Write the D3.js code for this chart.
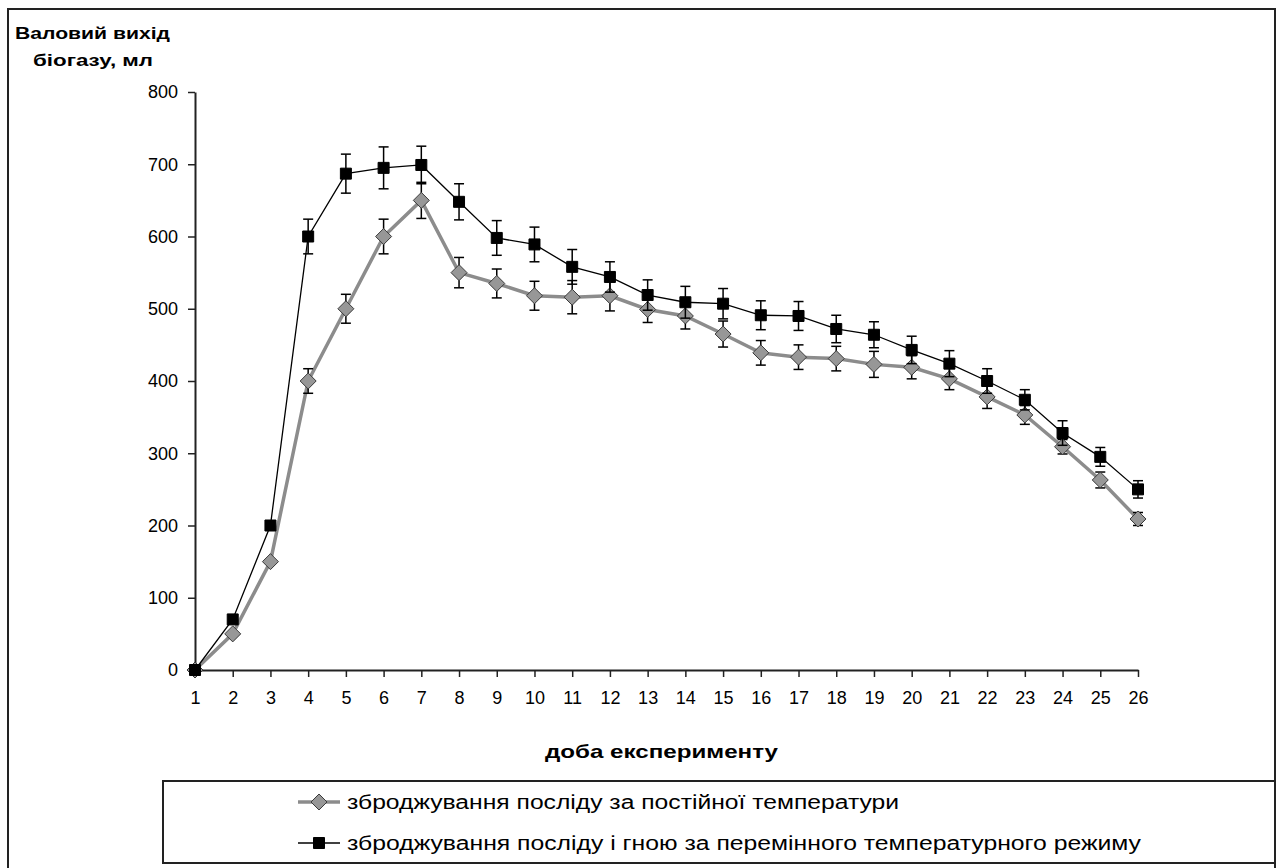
<!DOCTYPE html>
<html>
<head>
<meta charset="utf-8">
<script src="https://cdn.jsdelivr.net/npm/d3@7"></script>
<style>
  body { margin: 0; background: #fff; }
  text { font-family: "Liberation Sans", Arial, sans-serif; }
</style>
</head>
<body>
<div id="chart"></div>
<script>
// days of the experiment (x categories)
const days = [1,2,3,4,5,6,7,8,9,10,11,12,13,14,15,16,17,18,19,20,21,22,23,24,25,26];
// constant temperature, ml
const constTemp = [0,50,150,400,500,600,650,550,535,518,516,518,499,490,465,439,433,431,423,419,403,378,353,309,263,209];
const constTempErr = [0,0,0,17,20,24,25,21,20,20,23,21,18,18,18,17,17,17,18,16,15,16,13,10,11,9];
// variable temperature regime, ml
const varTemp = [0,70,200,600,687,695,699,648,598,589,558,544,519,509,507,491,490,472,464,443,424,400,374,328,295,250];
const varTempErr = [0,0,0,24,27,29,26,25,24,24,24,21,21,22,21,20,20,19,18,19,18,17,14,17,13,12];
const yTicks = [0,100,200,300,400,500,600,700,800];

const yTitle = ["Валовий вихід", "біогазу, мл"];
const xTitle = "доба експерименту";
const legendLabels = [
    "зброджування посліду за постійної температури",
    "зброджування посліду і гною за перемінного температурного режиму"
];

const W = 1281, H = 868;

let svg = d3.select("#chart").append("svg")
    .attr("width", W)
    .attr("height", H);

// outer chart frame (bottom runs off the picture)
svg.append("rect")
    .attr("x", 8).attr("y", 9)
    .attr("width", 1267).attr("height", 880)
    .attr("fill", "none")
    .attr("stroke", "#222")
    .attr("stroke-width", 2);

let xScale = d3.scaleLinear().domain([1, 26]).range([195, 1138]);
let yScale = d3.scaleLinear().domain([0, 800]).range([670, 92]);

let yAxis = svg.append("g")
    .attr("transform", "translate(195,0)")
    .call(d3.axisLeft(yScale).tickValues(yTicks).tickSize(7).tickSizeOuter(0).tickPadding(10));
let xAxis = svg.append("g")
    .attr("transform", "translate(0,670)")
    .call(d3.axisBottom(xScale).tickValues(days).tickSize(7).tickSizeOuter(0).tickPadding(14));

[yAxis, xAxis].forEach(function(ax){
    ax.select(".domain").attr("stroke", "#222").attr("stroke-width", 2);
    ax.selectAll(".tick line").attr("stroke", "#222").attr("stroke-width", 1.5);
    ax.selectAll(".tick text")
        .attr("font-size", "18px")
        .attr("fill", "#000")
        .style("font-family", "'Liberation Sans', Arial, sans-serif");
});

// axis titles
svg.append("text").text(yTitle[0])
    .attr("x", 15).attr("y", 39)
    .attr("font-size", "17px").attr("font-weight", "bold")
    .attr("textLength", 155).attr("lengthAdjust", "spacingAndGlyphs");
svg.append("text").text(yTitle[1])
    .attr("x", 33).attr("y", 66)
    .attr("font-size", "17px").attr("font-weight", "bold")
    .attr("textLength", 120).attr("lengthAdjust", "spacingAndGlyphs");
svg.append("text").text(xTitle)
    .attr("x", 545).attr("y", 758)
    .attr("font-size", "19px").attr("font-weight", "bold")
    .attr("textLength", 233).attr("lengthAdjust", "spacingAndGlyphs");

/**
 * Draws one series: error bars, line and markers
 */
function drawSeries(values, errs, style){
    let g = svg.append("g");
    let pts = values.map(function(v, i){ return {day: days[i], v: v, e: errs[i]}; });

    g.append("path")
        .datum(pts)
        .attr("fill", "none")
        .attr("stroke", style.line)
        .attr("stroke-width", style.lineWidth)
        .attr("d", d3.line().x(d => xScale(d.day)).y(d => yScale(d.v)));

    let eb = g.selectAll(".err").data(pts.filter(d => d.e > 0)).enter().append("g");
    eb.append("line")
        .attr("x1", d => xScale(d.day)).attr("x2", d => xScale(d.day))
        .attr("y1", d => yScale(d.v - d.e)).attr("y2", d => yScale(d.v + d.e))
        .attr("stroke", "#000").attr("stroke-width", 1.5);
    [1, -1].forEach(function(s){
        eb.append("line")
            .attr("x1", d => xScale(d.day) - 5).attr("x2", d => xScale(d.day) + 5)
            .attr("y1", d => yScale(d.v + s * d.e)).attr("y2", d => yScale(d.v + s * d.e))
            .attr("stroke", "#000").attr("stroke-width", 1.5);
    });

    g.selectAll(".mark").data(pts).enter().append("path")
        .attr("transform", d => "translate(" + xScale(d.day) + "," + yScale(d.v) + ")")
        .attr("d", style.marker)
        .attr("fill", style.fill)
        .attr("stroke", style.stroke)
        .attr("stroke-width", 1);
}

const diamond = "M0,-8L8,0L0,8L-8,0Z";
const square = "M-5.5,-5.5H5.5V5.5H-5.5Z";
const styles = [
    {line: "#8c8c8c", lineWidth: 3.5, marker: diamond, fill: "#979797", stroke: "#3a3a3a"},
    {line: "#000", lineWidth: 1.3, marker: square, fill: "#000", stroke: "#000"}
];

drawSeries(constTemp, constTempErr, styles[0]);
drawSeries(varTemp, varTempErr, styles[1]);

// legend
svg.append("rect")
    .attr("x", 163).attr("y", 781)
    .attr("width", 1112).attr("height", 82)
    .attr("fill", "#fff")
    .attr("stroke", "#222")
    .attr("stroke-width", 2);

const legendY = [802, 843];
const legendW = [552, 794];
legendLabels.forEach(function(lab, i){
    let st = styles[i];
    svg.append("line")
        .attr("x1", 298).attr("x2", 340)
        .attr("y1", legendY[i]).attr("y2", legendY[i])
        .attr("stroke", st.line).attr("stroke-width", st.lineWidth);
    svg.append("path")
        .attr("transform", "translate(319," + legendY[i] + ")")
        .attr("d", st.marker)
        .attr("fill", st.fill).attr("stroke", st.stroke);
    svg.append("text").text(lab)
        .attr("x", 347).attr("y", legendY[i] + 7)
        .attr("font-size", "20px")
        .attr("textLength", legendW[i]).attr("lengthAdjust", "spacingAndGlyphs");
});
</script>
</body>
</html>
